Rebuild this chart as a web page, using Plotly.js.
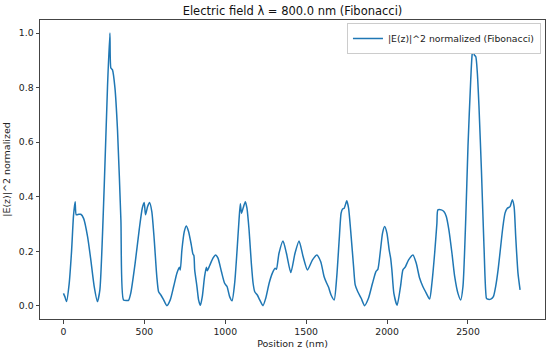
<!DOCTYPE html>
<html><head><meta charset="utf-8">
<script src="https://cdn.plot.ly/plotly-3.0.1.min.js"></script>
<style>html,body{margin:0;padding:0;background:#fff}#c{width:550px;height:349px}</style>
</head><body><div id="c"></div>
<script>
const positionNm = [0,8,19,35,50,62,72,79,95,107,125,149,169,190,210,225,252,272,287,293,303,318,334,355,371,392,402,416,443,468,487,499,507,520,532,546,561,577,588,602,619,639,660,681,701,716,722,732,747,759,773,790,800,806,811,825,835,846,858,872,883,889,903,924,940,955,976,996,1011,1027,1042,1058,1073,1085,1093,1100,1110,1124,1134,1147,1161,1172,1182,1198,1213,1233,1250,1271,1291,1308,1316,1332,1357,1378,1405,1431,1456,1481,1508,1539,1566,1590,1611,1627,1638,1654,1673,1689,1704,1716,1725,1735,1751,1762,1778,1793,1803,1819,1840,1861,1885,1910,1931,1943,1957,1972,1985,1999,2013,2022,2030,2042,2062,2083,2098,2112,2133,2160,2180,2201,2221,2242,2263,2277,2294,2308,2314,2335,2351,2366,2382,2401,2418,2438,2455,2469,2486,2500,2517,2527,2533,2539,2548,2558,2568,2583,2599,2614,2620,2641,2657,2671,2686,2702,2716,2729,2743,2760,2774,2785,2795,2809,2822];
const intensity = [0.046,0.035,0.016,0.08,0.2,0.33,0.382,0.334,0.336,0.336,0.32,0.254,0.169,0.071,0.016,0.059,0.44,0.80,1.0,0.872,0.865,0.80,0.645,0.315,0.022,0.02,0.02,0.047,0.157,0.279,0.358,0.379,0.334,0.364,0.379,0.346,0.242,0.107,0.052,0.040,0.022,0.001,0.022,0.071,0.12,0.142,0.132,0.205,0.273,0.293,0.273,0.224,0.19,0.185,0.132,0.071,0.022,0.002,0.034,0.107,0.142,0.129,0.147,0.175,0.187,0.175,0.126,0.083,0.071,0.034,0.019,0.083,0.205,0.315,0.374,0.34,0.358,0.382,0.358,0.279,0.157,0.083,0.052,0.04,0.022,0.001,0.028,0.083,0.12,0.138,0.134,0.193,0.238,0.193,0.122,0.193,0.238,0.181,0.132,0.169,0.187,0.162,0.107,0.083,0.069,0.040,0.022,0.107,0.242,0.34,0.355,0.358,0.385,0.358,0.254,0.144,0.077,0.052,0.028,0.001,0.028,0.083,0.126,0.134,0.193,0.267,0.291,0.267,0.205,0.175,0.13,0.046,0.002,0.071,0.132,0.142,0.169,0.187,0.157,0.102,0.071,0.047,0.025,0.083,0.193,0.303,0.352,0.352,0.346,0.328,0.279,0.193,0.107,0.046,0.022,0.071,0.315,0.584,0.829,0.927,0.935,0.920,0.914,0.853,0.731,0.499,0.217,0.028,0.025,0.025,0.034,0.071,0.132,0.217,0.291,0.340,0.358,0.364,0.389,0.364,0.254,0.12,0.059];
const xTickVals = [0,500,1000,1500,2000,2500];
const yTickVals = [0.0,0.2,0.4,0.6,0.8,1.0];
const seriesName = "|E(z)|^2 normalized (Fibonacci)";
const titleText = "Electric field λ = 800.0 nm (Fibonacci)";

const font = "DejaVu Sans, sans-serif";
Plotly.newPlot('c', [{
  x: positionNm, y: intensity, type: 'scatter', mode: 'lines', name: seriesName,
  line: {color: '#1f77b4', width: 1.5, shape: 'spline', smoothing: 0.6}
}], {
  width: 550, height: 349,
  margin: {l: 40, r: 5, t: 20, b: 30, pad: 0},
  paper_bgcolor: '#fff', plot_bgcolor: '#fff',
  font: {family: font, color: '#222', size: 9},
  title: {text: titleText, font: {family: font, size: 11.5, color: '#111'}, x: 0.5, xref: 'paper', y: 0.968, yref: 'container', yanchor: 'middle'},
  showlegend: true,
  legend: {x: 0.992, y: 0.99, xanchor: 'right', yanchor: 'top', bgcolor: '#fff', bordercolor: '#ccc', borderwidth: 1, font: {family: font, size: 9.3, color: '#222'}, itemwidth: 30},
  xaxis: {
    range: [-145, 2976], tickvals: xTickVals, ticktext: xTickVals.map(String),
    showgrid: false, zeroline: false, showline: true, mirror: true, linecolor: '#444', linewidth: 1,
    ticks: 'outside', ticklen: 3.5, tickcolor: '#444', tickfont: {size: 9.3},
    title: {text: 'Position z (nm)', font: {size: 9.5}, standoff: 4}
  },
  yaxis: {
    range: [-0.048, 1.048], tickvals: yTickVals, ticktext: yTickVals.map(v => v.toFixed(1)),
    showgrid: false, zeroline: false, showline: true, mirror: true, linecolor: '#444', linewidth: 1,
    ticks: 'outside', ticklen: 3.5, tickcolor: '#444', tickfont: {size: 9.3},
    title: {text: '|E(z)|^2 normalized', font: {size: 9.5}, standoff: 6}
  }
}, {displayModeBar: false, staticPlot: true});
</script></body></html>
